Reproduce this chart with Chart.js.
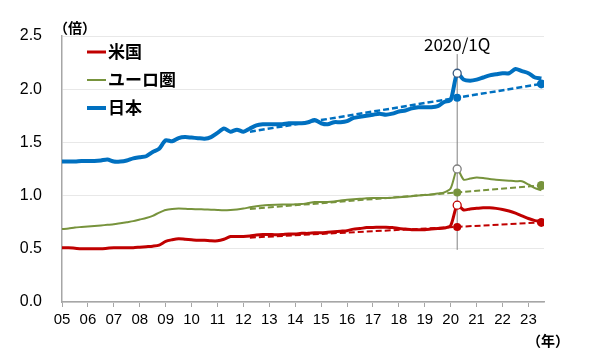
<!DOCTYPE html>
<html>
<head>
<meta charset="utf-8">
<script src="https://cdn.jsdelivr.net/npm/chart.js@4.4.0/dist/chart.umd.min.js"></script>
<style>
  html, body { margin: 0; padding: 0; background: #fff; }
  #wrap { width: 600px; height: 359px; }
</style>
</head>
<body>
<div id="wrap"><canvas id="chart"></canvas></div>
<script>
// quarterly data, 2004Q4 .. 2023Q2 (plotted at quarter end)
const quarters = [];
for (let y = 2004; y <= 2023; y++) {
    for (let q = 1; q <= 4; q++) {
        if (y === 2004 && q < 4) continue;
        if (y === 2023 && q > 2) continue;
        quarters.push(y + 'Q' + q);
    }
}

const usValues = [
    0.51, 0.51, 0.505, 0.50, 0.50, 0.50, 0.50, 0.505, 0.51, 0.51,
    0.51, 0.51, 0.515, 0.52, 0.525, 0.535, 0.57, 0.585, 0.595, 0.59,
    0.585, 0.58, 0.58, 0.575, 0.575, 0.59, 0.615, 0.615, 0.615, 0.62,
    0.63, 0.635, 0.635, 0.632, 0.635, 0.64, 0.64, 0.645, 0.645, 0.65,
    0.65, 0.655, 0.66, 0.665, 0.67, 0.685, 0.69, 0.70, 0.70, 0.703,
    0.703, 0.70, 0.69, 0.685, 0.68, 0.68, 0.68, 0.685, 0.69, 0.695,
    0.72, 0.91, 0.865, 0.875, 0.88, 0.885, 0.885, 0.88, 0.87, 0.855,
    0.835, 0.81, 0.785, 0.765, 0.755
];
const euroValues = [
    0.685, 0.69, 0.70, 0.705, 0.71, 0.715, 0.72, 0.725, 0.73, 0.74,
    0.75, 0.76, 0.775, 0.79, 0.81, 0.84, 0.865, 0.875, 0.878, 0.876,
    0.873, 0.872, 0.87, 0.868, 0.865, 0.863, 0.865, 0.87, 0.878, 0.89,
    0.9, 0.908, 0.912, 0.915, 0.916, 0.916, 0.918, 0.92, 0.93, 0.94,
    0.94, 0.94, 0.945, 0.955, 0.96, 0.965, 0.97, 0.975, 0.978, 0.978,
    0.978, 0.98, 0.985, 0.99, 0.995, 1.0, 1.005, 1.01, 1.02, 1.03,
    1.07, 1.25, 1.15, 1.16, 1.17, 1.165, 1.155, 1.15, 1.145, 1.14,
    1.135, 1.135, 1.105, 1.07, 1.05
];
const japanValues = [
    1.32, 1.32, 1.32, 1.325, 1.325, 1.325, 1.33, 1.34, 1.32, 1.32,
    1.33, 1.35, 1.36, 1.37, 1.41, 1.44, 1.52, 1.51, 1.54, 1.55,
    1.545, 1.54, 1.535, 1.55, 1.59, 1.63, 1.60, 1.62, 1.60, 1.63,
    1.66, 1.67, 1.67, 1.67, 1.67, 1.68, 1.68, 1.68, 1.69, 1.71,
    1.68, 1.67, 1.69, 1.69, 1.70, 1.73, 1.74, 1.75, 1.76, 1.77,
    1.76, 1.77, 1.79, 1.80, 1.82, 1.83, 1.83, 1.83, 1.84, 1.88,
    1.90, 2.15, 2.09, 2.08, 2.09, 2.11, 2.13, 2.14, 2.15, 2.15,
    2.19, 2.17, 2.15, 2.11, 2.10
];

// dashed trend lines (start, 2020Q1, end)
const trendQuarters = ['2012Q1', '2020Q1', '2023Q2'];
const usTrend = [0.605, 0.706, 0.748];
const euroTrend = [0.875, 1.03, 1.095];
const japanTrend = [1.60, 1.92, 2.05];

const markerQuarter = '2020Q1';
const markerLabel = '2020/1Q';
const yearTicks = ['05', '06', '07', '08', '09', '10', '11', '12', '13', '14',
    '15', '16', '17', '18', '19', '20', '21', '22', '23'];
const yTicks = [0, 0.5, 1.0, 1.5, 2.0, 2.5];
const legendLabels = ['米国', 'ユーロ圏', '日本'];

const RED = '#C00000';
const GREEN = '#77933C';
const BLUE = '#0070C0';
const JP_FONT = '"Noto Sans CJK JP", sans-serif';
const NUM_FONT = '"Liberation Sans", Arial, sans-serif';

function qx(label) {
    const y = parseInt(label.slice(0, 4), 10);
    const q = parseInt(label.slice(5), 10);
    return y + q / 4;
}
const toPoints = (labels, vals) => labels.map((l, i) => ({ x: qx(l), y: vals[i] }));
const markerIdx = quarters.indexOf(markerQuarter);

function mainSet(label, vals, color, width, ring) {
    return {
        label: label,
        data: toPoints(quarters, vals),
        borderColor: color,
        borderWidth: width,
        tension: 0.25,
        pointRadius: ctx => ctx.dataIndex === markerIdx ? 4 : 0,
        pointBackgroundColor: '#fff',
        pointBorderColor: ring,
        pointBorderWidth: 1.3,
        order: 2
    };
}
function trendSet(vals, color, width) {
    return {
        data: toPoints(trendQuarters, vals),
        borderColor: color,
        borderWidth: width,
        borderDash: [6, 3],
        pointRadius: [0, 4, 4.5],
        pointBackgroundColor: color,
        pointBorderColor: color,
        pointBorderWidth: 0,
        order: 1
    };
}

const annotate = {
    id: 'annotate',
    beforeDatasetsDraw(chart) {
        const c = chart.ctx, xs = chart.scales.x, ys = chart.scales.y;
        const px = xs.getPixelForValue(qx(markerQuarter));
        c.save();
        c.strokeStyle = '#808080';
        c.lineWidth = 1;
        c.beginPath();
        c.moveTo(px, ys.getPixelForValue(2.33));
        c.lineTo(px, ys.getPixelForValue(0.49));
        c.stroke();
        c.restore();
    },
    afterDraw(chart) {
        const c = chart.ctx, xs = chart.scales.x;
        const px = xs.getPixelForValue(qx(markerQuarter));
        c.save();
        c.fillStyle = '#000';
        c.textBaseline = 'middle';
        c.textAlign = 'center';
        c.font = '17px ' + JP_FONT;
        c.fillText(markerLabel, px, 45);
        c.font = 'bold 14px ' + JP_FONT;
        c.fillText('（倍）', 75, 28);
        c.fillText('（年）', 548, 341);

        // legend
        const colors = [RED, GREEN, BLUE];
        const widths = [3, 2, 4];
        c.textAlign = 'left';
        c.font = 'bold 17px ' + JP_FONT;
        legendLabels.forEach((t, i) => {
            const y = 52 + i * 28;
            c.strokeStyle = colors[i];
            c.lineWidth = widths[i];
            c.beginPath();
            c.moveTo(87, y);
            c.lineTo(106, y);
            c.stroke();
            c.fillText(t, 108, y);
        });
        c.restore();
    }
};

new Chart(document.getElementById('chart'), {
    type: 'line',
    data: {
        datasets: [
            trendSet(usTrend, RED, 2),
            trendSet(euroTrend, GREEN, 2),
            trendSet(japanTrend, BLUE, 2.5),
            mainSet('米国', usValues, RED, 3, RED),
            mainSet('ユーロ圏', euroValues, GREEN, 2, '#7f7f7f'),
            mainSet('日本', japanValues, BLUE, 4, '#3a5a80')
        ]
    },
    options: {
        responsive: true,
        maintainAspectRatio: false,
        animation: false,
        layout: { padding: { top: 36, right: 56, left: 0, bottom: 0 } },
        plugins: { legend: { display: false }, tooltip: { enabled: false } },
        scales: {
            x: {
                type: 'linear',
                min: 2005,
                max: 2023.6,
                afterBuildTicks: s => { s.ticks = yearTicks.map(t => ({ value: 2000 + parseInt(t, 10) })); },
                afterFit: s => { s.height = 57; },
                ticks: {
                    callback: v => yearTicks[Math.round(v) - 2005],
                    color: '#000',
                    font: { family: NUM_FONT, size: 15 },
                    padding: 4,
                    maxRotation: 0,
                    autoSkip: false
                },
                grid: { drawOnChartArea: false, tickLength: 5, color: '#a6a6a6' },
                border: { color: '#a6a6a6', width: 1.5 }
            },
            y: {
                min: 0,
                max: 2.5,
                afterBuildTicks: s => { s.ticks = yTicks.map(v => ({ value: v })); },
                afterFit: s => { s.width = 62; },
                ticks: {
                    callback: v => v.toFixed(1),
                    color: '#000',
                    font: { family: NUM_FONT, size: 16 },
                    padding: 20
                },
                grid: { drawTicks: false, color: '#e8e8e8' },
                border: { color: '#a6a6a6', width: 1.5 }
            }
        }
    },
    plugins: [annotate]
});
</script>
</body>
</html>
